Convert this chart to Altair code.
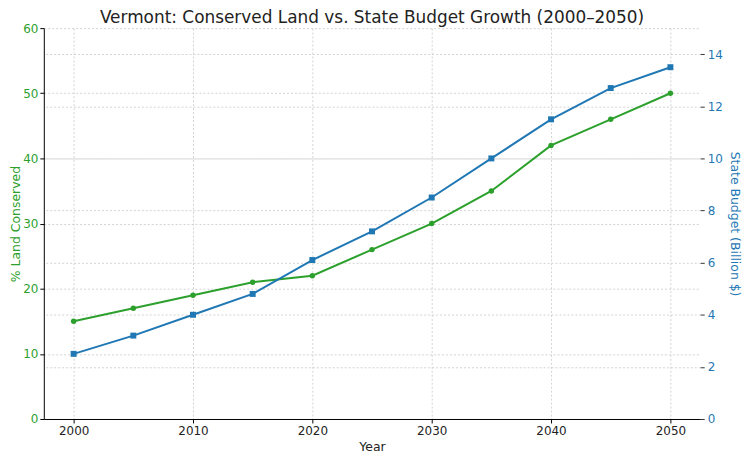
import altair as alt
import pandas as pd

years = [2000, 2005, 2010, 2015, 2020, 2025, 2030, 2035, 2040, 2045, 2050]
land_conserved = [15, 17, 19, 21, 22, 26, 30, 35, 42, 46, 50]
state_budget = [2.5, 3.2, 4.0, 4.8, 6.1, 7.2, 8.5, 10.0, 11.5, 12.7, 13.5]
x_ticks = [2000, 2010, 2020, 2030, 2040, 2050]
left_ticks = [0, 10, 20, 30, 40, 50, 60]
right_ticks = [0, 2, 4, 6, 8, 10, 12, 14]

GREEN = "#2ca02c"
BLUE = "#1f77b4"
FONT = "DejaVu Sans"

df = pd.DataFrame({"Year": years, "Land": land_conserved, "Budget": state_budget})

grid_kw = dict(grid=True, gridColor="#c8c8c8", gridDash=[2, 2], gridWidth=0.8)

x_enc = alt.X(
    "Year:Q",
    scale=alt.Scale(domain=[1997.5, 2052.5], nice=False, zero=False),
    axis=alt.Axis(values=x_ticks, format="d", title="Year", domainColor="black",
                  tickColor="black", labelColor="#222222", titleColor="#222222",
                  tickSize=4, labelPadding=3, titlePadding=4, **grid_kw),
)

green = alt.Chart(df).mark_line(
    color=GREEN, strokeWidth=2,
    point=alt.OverlayMarkDef(shape="circle", size=30, filled=True, color=GREEN, opacity=1),
).encode(
    x=x_enc,
    y=alt.Y("Land:Q", scale=alt.Scale(domain=[0, 60], nice=False),
            axis=alt.Axis(values=left_ticks, title="% Land Conserved", orient="left",
                          labelColor=GREEN, titleColor=GREEN, domainColor="black",
                          tickColor="black", tickSize=4, labelPadding=2, titlePadding=0.5,
                          **grid_kw)),
)

blue = alt.Chart(df).mark_line(
    color=BLUE, strokeWidth=2,
    point=alt.OverlayMarkDef(shape="square", size=36, filled=True, color=BLUE, opacity=1),
).encode(
    x=alt.X("Year:Q", scale=alt.Scale(domain=[1997.5, 2052.5], nice=False, zero=False)),
    y=alt.Y("Budget:Q", scale=alt.Scale(domain=[0, 15], nice=False),
            axis=alt.Axis(values=right_ticks, title="State Budget (Billion $)", orient="right",
                          labelColor=BLUE, titleColor=BLUE, domain=False,
                          tickColor="#333333", tickSize=4, labelPadding=3, titlePadding=5,
                          **grid_kw)),
)

chart = alt.layer(green, blue).resolve_scale(y="independent").properties(
    width=660,
    height=393,
    title=alt.TitleParams(
        "Vermont: Conserved Land vs. State Budget Growth (2000–2050)",
        font=FONT, fontSize=17, fontWeight="normal", color="#222222",
        anchor="middle", frame="group", offset=5, baseline="alphabetic", dy=23,
    ),
    autosize=alt.AutoSizeParams(type="none"),
    padding={"left": 36, "top": 19, "right": 42, "bottom": 41},
).configure_view(stroke=None).configure_axis(
    labelFont=FONT, titleFont=FONT, labelFontSize=12, titleFontSize=12.5,
    titleFontWeight="normal",
)

chart.save("out.html", embed_options={"renderer": "svg", "actions": False})
